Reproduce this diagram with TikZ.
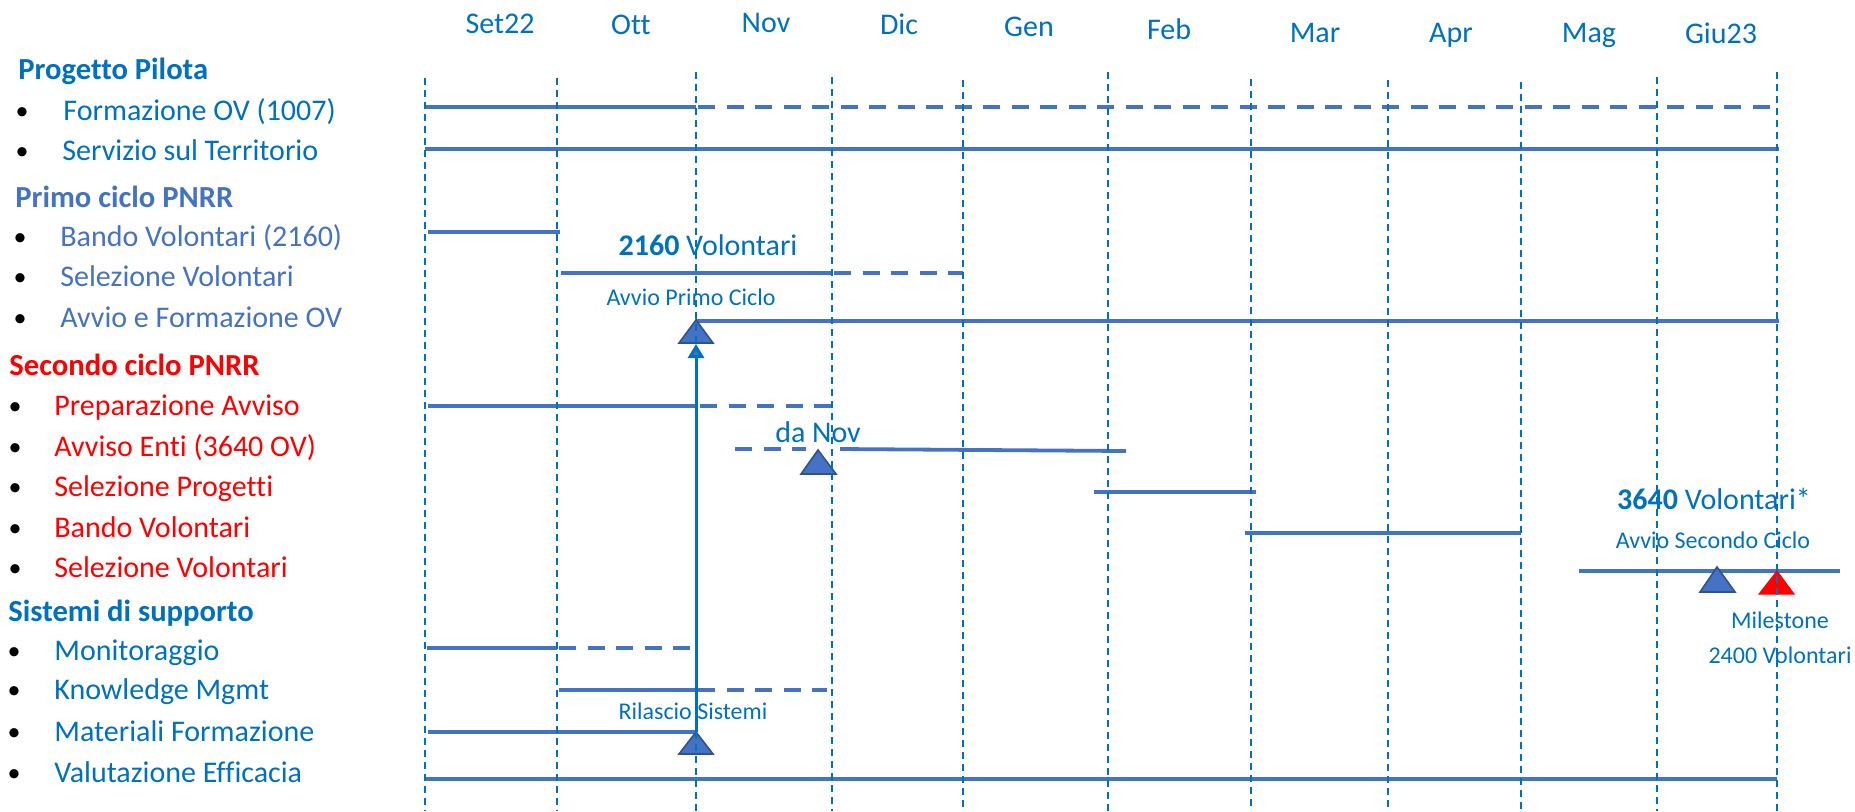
\documentclass[tikz,border=0pt]{standalone}
\usepackage{fontspec}
\setmainfont[Ligatures=NoCommon]{Carlito}
\usetikzlibrary{arrows.meta}
\definecolor{dblue}{HTML}{0070C0}
\definecolor{lblue}{HTML}{4472C4}
\definecolor{tblue}{HTML}{2F528F}
\definecolor{pred}{HTML}{FF0000}
\tikzset{
  gline/.style={color=dblue, line width=0.9pt, dash pattern=on 3.5pt off 2.5pt},
  tbar/.style={color=lblue, line width=1.9pt},
  dbar/.style={color=lblue, line width=1.9pt, dash pattern=on 8.5pt off 5.75pt},
  mtri/.style={fill=lblue, draw=tblue, line width=0.8pt},
  rtri/.style={fill=pred, draw=pred, line width=0.5pt},
  txt/.style={inner sep=0pt, font=\fontsize{15}{18}\selectfont},
  small/.style={inner sep=0pt, font=\fontsize{12}{14}\selectfont, color=dblue, anchor=base},
  month/.style={txt, color=dblue, anchor=base},
  head/.style={txt, anchor=base west, font=\fontsize{15.3}{18}\selectfont\bfseries},
  item/.style={txt, anchor=base west},
  bul/.style={txt, anchor=base, color=black, font=\fontsize{13}{16}\selectfont}
}
\begin{document}
\begin{tikzpicture}[x=0.5pt,y=-0.5pt]
\useasboundingbox (0,0) rectangle (1855,811);
\node [month] (m1) at (500,33) {Set22};
\node [month] (m2) at (631,34) {Ott};
\node [month] (m3) at (766,32) {Nov};
\node [month] (m4) at (899,34) {Dic};
\node [month] (m5) at (1029,36) {Gen};
\node [month] (m6) at (1169,39) {Feb};
\node [month] (m7) at (1315,42) {Mar};
\node [month] (m8) at (1451,42) {Apr};
\node [month] (m9) at (1589,42) {Mag};
\node [month] (m10) at (1721,43) {Giu23};
\node [head, color=dblue] (h1) at (18,79) {Progetto Pilota};
\node [bul] (b1) at (22,119) {•};
\node [item, color=dblue] (i1) at (63,120) {Formazione OV (1007)};
\node [bul] (b2) at (22,159) {•};
\node [item, color=dblue] (i2) at (62,160) {Servizio sul Territorio};
\node [head, color=lblue] (h2) at (15,207) {Primo ciclo PNRR};
\node [bul] (b3) at (20,245) {•};
\node [item, color=lblue] (i3) at (60,246) {Bando Volontari (2160)};
\node [bul] (b4) at (20,285) {•};
\node [item, color=lblue] (i4) at (60,286) {Selezione Volontari};
\node [bul] (b5) at (20,326) {•};
\node [item, color=lblue] (i5) at (60,327) {Avvio e Formazione OV};
\node [head, color=pred] (h3) at (9,375) {Secondo ciclo PNRR};
\node [bul] (b6) at (15,414) {•};
\node [item, color=pred] (i6) at (54,415) {Preparazione Avviso};
\node [bul] (b7) at (15,455) {•};
\node [item, color=pred] (i7) at (54,456) {Avviso Enti (3640 OV)};
\node [bul] (b8) at (15,495) {•};
\node [item, color=pred] (i8) at (54,496) {Selezione Progetti};
\node [bul] (b9) at (15,536) {•};
\node [item, color=pred] (i9) at (54,537) {Bando Volontari};
\node [bul] (b10) at (15,576) {•};
\node [item, color=pred] (i10) at (54,577) {Selezione Volontari};
\node [head, color=dblue] (h4) at (8,621) {Sistemi di supporto};
\node [bul] (b11) at (14,659) {•};
\node [item, color=dblue] (i11) at (54,660) {Monitoraggio};
\node [bul] (b12) at (14,698) {•};
\node [item, color=dblue] (i12) at (54,699) {Knowledge Mgmt};
\node [bul] (b13) at (14,740) {•};
\node [item, color=dblue] (i13) at (54,741) {Materiali Formazione};
\node [bul] (b14) at (14,781) {•};
\node [item, color=dblue] (i14) at (54,782) {Valutazione Efficacia};
\draw [tbar] (425,107) -- (696,107);
\draw [dbar] (698,107) -- (1777,107);
\draw [tbar] (425,149) -- (1779,149);
\draw [tbar] (428,232) -- (560,232);
\draw [tbar] (561,273) -- (832,273);
\draw [dbar] (834,273) -- (963,273);
\draw [tbar] (696,321) -- (1779,321);
\draw [tbar] (428,406) -- (696,406);
\draw [dbar] (700,406) -- (832,406);
\draw [dbar] (735,449) -- (806,449);
\draw [tbar] (840,449) -- (1126,451);
\draw [tbar] (1094,492) -- (1256,492);
\draw [tbar] (1245,533) -- (1521,533);
\draw [tbar] (1579,571) -- (1840,571);
\draw [tbar] (427,648) -- (557,648);
\draw [dbar] (559,648) -- (690,648);
\draw [tbar] (559,690) -- (696,690);
\draw [dbar] (698,690) -- (827,690);
\draw [tbar] (428,732) -- (696,732);
\draw [tbar] (425,779) -- (1777,779);
\filldraw [mtri] (696,320) -- (713,343) -- (679,343) -- cycle;
\filldraw [mtri] (818,450) -- (836,474) -- (801,474) -- cycle;
\filldraw [mtri] (696,732) -- (713,754) -- (679,754) -- cycle;
\filldraw [mtri] (1717,567) -- (1735,592) -- (1700,592) -- cycle;
\filldraw [rtri] (1777,571) -- (1794,594) -- (1759,594) -- cycle;
\draw [gline] (425,78) -- (425,811);
\draw [gline] (557,78) -- (557,811);
\draw [gline] (696,72) -- (696,811);
\draw [gline] (832,77) -- (832,811);
\draw [gline] (963,80) -- (963,811);
\draw [gline] (1108,72) -- (1108,811);
\draw [gline] (1251,79) -- (1251,811);
\draw [gline] (1388,80) -- (1388,811);
\draw [gline] (1521,82) -- (1521,811);
\draw [gline] (1657,77) -- (1657,811);
\draw [gline] (1777,72) -- (1777,811);
\coordinate (ril) at (696,732);
\coordinate (avp) at (696,344);
\draw [color=dblue, line width=1.5pt, -{Triangle[width=8pt,length=7pt,fill=lblue]}] (ril) -- (avp);
\node [txt, color=dblue, anchor=base] (v1) at (708,255) {\textbf{2160} Volontari};
\node [small] (a1) at (691,305) {Avvio Primo Ciclo};
\node [txt, color=dblue, anchor=base] (dn) at (818,442) {da Nov};
\node [small] (rs) at (693,719) {Rilascio Sistemi};
\node [txt, color=dblue, anchor=base] (v2) at (1714,509) {\textbf{3640} Volontari*};
\node [small] (a2) at (1713,548) {Avvio Secondo Ciclo};
\node [small] (ms) at (1780,628) {Milestone};
\node [small] (v3) at (1780,663) {2400 Volontari};
\end{tikzpicture}
\end{document}
